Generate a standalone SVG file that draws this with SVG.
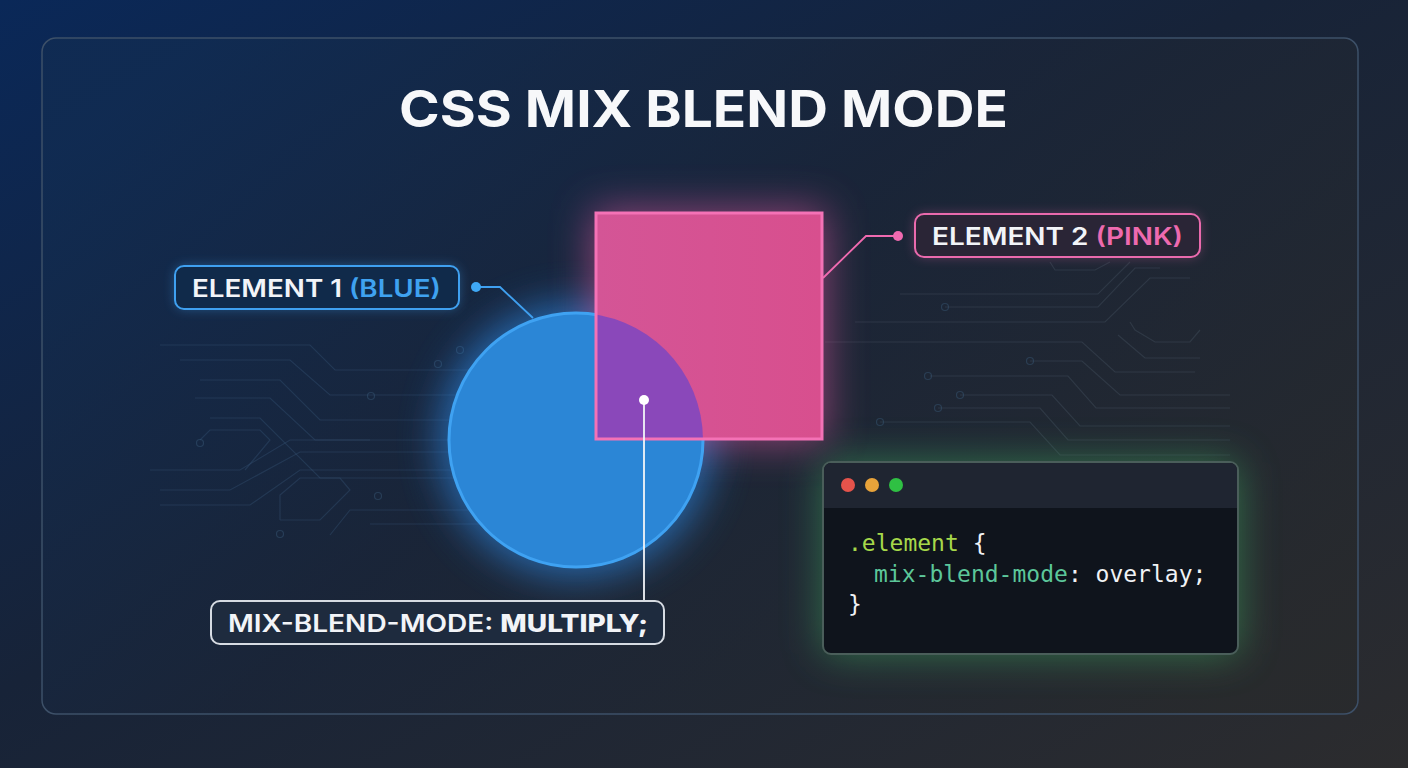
<svg xmlns="http://www.w3.org/2000/svg" width="1408" height="768" viewBox="0 0 1408 768">
  <defs>
    <linearGradient id="bg" x1="0" y1="0" x2="1" y2="1">
      <stop offset="0" stop-color="#0a2858"/>
      <stop offset="0.45" stop-color="#172338"/>
      <stop offset="1" stop-color="#2c2c2e"/>
    </linearGradient>
    <linearGradient id="panel" x1="0" y1="0.2" x2="1" y2="0.8">
      <stop offset="0" stop-color="#112c52"/>
      <stop offset="0.45" stop-color="#1a2538"/>
      <stop offset="1" stop-color="#282a2c"/>
    </linearGradient>
    <linearGradient id="sqfill" x1="0" y1="0" x2="1" y2="0">
      <stop offset="0" stop-color="#d45596"/>
      <stop offset="1" stop-color="#d84f8e"/>
    </linearGradient>
    <filter id="glow" x="-50%" y="-50%" width="200%" height="200%">
      <feGaussianBlur stdDeviation="20"/>
    </filter>
    <filter id="softglow" x="-50%" y="-50%" width="200%" height="200%">
      <feGaussianBlur stdDeviation="6"/>
    </filter>
    <clipPath id="sqclip">
      <rect x="596" y="213" width="226" height="226"/>
    </clipPath>
    <style>
      .lbl { font-family: Inter, "Liberation Sans", sans-serif; font-size: 24px; font-weight: 600; fill: #f2f4f8; }
      .code { font-family: "DejaVu Sans Mono", "Liberation Mono", monospace; font-size: 23px; fill: #f0f2f5; }
      .trace { fill: none; stroke: #3a5a7a; stroke-width: 1.2; opacity: 0.35; }
      .traceR { fill: none; stroke: #4a5a66; stroke-width: 1.2; opacity: 0.35; }
      .via { fill: none; stroke: #3a5a7a; stroke-width: 1.2; opacity: 0.45; }
    </style>
  </defs>

  <rect width="1408" height="768" fill="url(#bg)"/>
  <rect x="42" y="38" width="1316" height="676" rx="14" fill="url(#panel)" fill-opacity="0.75" stroke="#3d5068" stroke-width="1.5"/>

  <!-- circuit traces -->
  <g id="traces">
    <polyline class="trace" points="160,345 310,345 335,370 480,370"/>
    <polyline class="trace" points="180,360 290,360 330,395 480,395"/>
    <polyline class="trace" points="200,380 280,380 320,420 480,420"/>
    <polyline class="trace" points="195,398 270,398 315,440 370,440"/>
    <polyline class="trace" points="210,418 260,418 320,478 480,478"/>
    <polyline class="trace" points="150,470 240,470 290,440 480,440"/>
    <polyline class="trace" points="160,490 230,490 300,452 480,452"/>
    <polyline class="trace" points="200,440 210,430 260,430 270,440 245,470"/>
    <polyline class="trace" points="280,520 280,495 300,478 340,478 350,490 320,520 280,520"/>
    <polyline class="trace" points="160,505 250,505 300,470 480,470"/>
    <polyline class="trace" points="330,535 350,510 480,510"/>
    <polyline class="trace" points="370,524 480,524"/>
    <circle class="via" cx="460" cy="350" r="3.5"/>
    <circle class="via" cx="438" cy="364" r="3.5"/>
    <circle class="via" cx="371" cy="396" r="3.5"/>
    <circle class="via" cx="200" cy="443" r="3.5"/>
    <circle class="via" cx="378" cy="496" r="3.5"/>
    <circle class="via" cx="280" cy="534" r="3.5"/>
    <polyline class="traceR" points="900,294 1098,294 1130,262"/>
    <polyline class="traceR" points="945,307 1098,307 1135,268 1160,268"/>
    <polyline class="traceR" points="855,322 1105,322 1150,278 1190,278"/>
    <polyline class="traceR" points="825,342 1082,342 1115,372 1195,372"/>
    <polyline class="traceR" points="1130,322 1135,330 1155,342 1190,342 1200,330"/>
    <polyline class="traceR" points="1118,335 1145,358 1200,358"/>
    <polyline class="traceR" points="1030,361 1082,361 1120,395 1230,395"/>
    <polyline class="traceR" points="930,376 1068,376 1096,408 1230,408"/>
    <polyline class="traceR" points="960,395 1052,395 1080,426 1230,426"/>
    <polyline class="traceR" points="938,408 1040,408 1068,440 1230,440"/>
    <polyline class="traceR" points="880,422 1030,422 1060,455 1230,455"/>
    <polyline class="traceR" points="1050,262 1055,270 1095,270 1110,262"/>
    <circle class="via" cx="945" cy="307" r="3.5"/>
    <circle class="via" cx="1030" cy="361" r="3.5"/>
    <circle class="via" cx="928" cy="376" r="3.5"/>
    <circle class="via" cx="960" cy="395" r="3.5"/>
    <circle class="via" cx="938" cy="408" r="3.5"/>
    <circle class="via" cx="880" cy="422" r="3.5"/>
  </g>

  <!-- title -->
  <text x="399" y="127" textLength="609" lengthAdjust="spacingAndGlyphs" font-family="Inter, 'Liberation Sans', sans-serif" font-weight="700" font-size="51" fill="#f7f8fa">CSS MIX BLEND MODE</text>

  <!-- glows -->
  <circle cx="576" cy="440" r="136" fill="#2f8ff0" opacity="0.65" filter="url(#glow)"/>
  <rect x="592" y="209" width="234" height="234" fill="#e85aa5" opacity="0.55" filter="url(#glow)"/>
  <rect x="823" y="462" width="415" height="192" rx="8" fill="#3fb060" opacity="0.55" filter="url(#glow)"/>

  <!-- connectors -->
  <g id="connectors">
    <polyline points="476,287 500,287 533,318" fill="none" stroke="#3fa0f0" stroke-width="1.8"/>
    <circle cx="476" cy="287" r="5" fill="#3fa8f5"/>
    <polyline points="898,236 866,236 823,278" fill="none" stroke="#f06ab0" stroke-width="1.8"/>
    <circle cx="898" cy="236" r="5" fill="#f06ab0"/>
  </g>

  <!-- element 1: blue circle -->
  <g id="element1">
    <circle cx="576" cy="440" r="127" fill="#2b86d6" stroke="#3fa2f2" stroke-width="3"/>
  </g>

  <!-- element 2: pink square with multiply overlap -->
  <g id="element2">
    <rect x="596" y="213" width="226" height="226" fill="url(#sqfill)"/>
    <circle cx="576" cy="440" r="127" fill="#8a48ba" clip-path="url(#sqclip)"/>
    <rect x="596" y="213" width="226" height="226" fill="none" stroke="#f472b6" stroke-width="3"/>
  </g>

  <!-- multiply pointer -->
  <g id="multiply-pointer">
    <line x1="644" y1="400" x2="644" y2="601" stroke="#f2f4f8" stroke-width="1.8"/>
    <circle cx="644" cy="400" r="5" fill="#ffffff"/>
  </g>

  <!-- label blue -->
  <g id="label-blue">
    <rect x="175" y="266" width="284" height="43" rx="9" fill="#3fa0f0" opacity="0.4" filter="url(#softglow)"/>
    <rect x="175" y="266" width="284" height="43" rx="9" fill="#102a4a" stroke="#3fa0f0" stroke-width="2"/>
    <text x="192" y="297" class="lbl" textLength="249" lengthAdjust="spacingAndGlyphs">ELEMENT 1 <tspan fill="#3fa2f0">(BLUE)</tspan></text>
  </g>

  <!-- label pink -->
  <g id="label-pink">
    <rect x="915" y="214" width="285" height="43" rx="9" fill="#e765a8" opacity="0.35" filter="url(#softglow)"/>
    <rect x="915" y="214" width="285" height="43" rx="9" fill="#2a2536" stroke="#ea6aad" stroke-width="2"/>
    <text x="932" y="245" class="lbl" textLength="251" lengthAdjust="spacingAndGlyphs">ELEMENT 2 <tspan fill="#ee6aaf">(PINK)</tspan></text>
  </g>

  <!-- label multiply -->
  <g id="label-multiply">
    <rect x="211" y="601" width="453" height="43" rx="9" fill="#1e2b3e" stroke="#d6dbe2" stroke-width="2"/>
    <text x="228" y="632" class="lbl" font-weight="500" textLength="420" lengthAdjust="spacingAndGlyphs">MIX-BLEND-MODE: <tspan font-weight="800">MULTIPLY;</tspan></text>
  </g>

  <!-- code window -->
  <g id="code-window">
    <rect x="823" y="462" width="415" height="192" rx="8" fill="#0f141c" stroke="#4a5e5a" stroke-width="2"/>
    <path d="M831,463 L1230,463 A7,7 0 0 1 1237,470 L1237,508 L824,508 L824,470 A7,7 0 0 1 831,463 Z" fill="#1f2531"/>
    <circle cx="848" cy="485" r="7" fill="#e5534b"/>
    <circle cx="872" cy="485" r="7" fill="#e8a33a"/>
    <circle cx="896" cy="485" r="7" fill="#2fc043"/>
    <text x="848" y="551" class="code"><tspan fill="#a6d84a">.element</tspan> {</text>
    <text x="874" y="582" class="code"><tspan fill="#5cc79a">mix-blend-mode</tspan>: overlay;</text>
    <text x="848" y="612" class="code">}</text>
  </g>
</svg>
